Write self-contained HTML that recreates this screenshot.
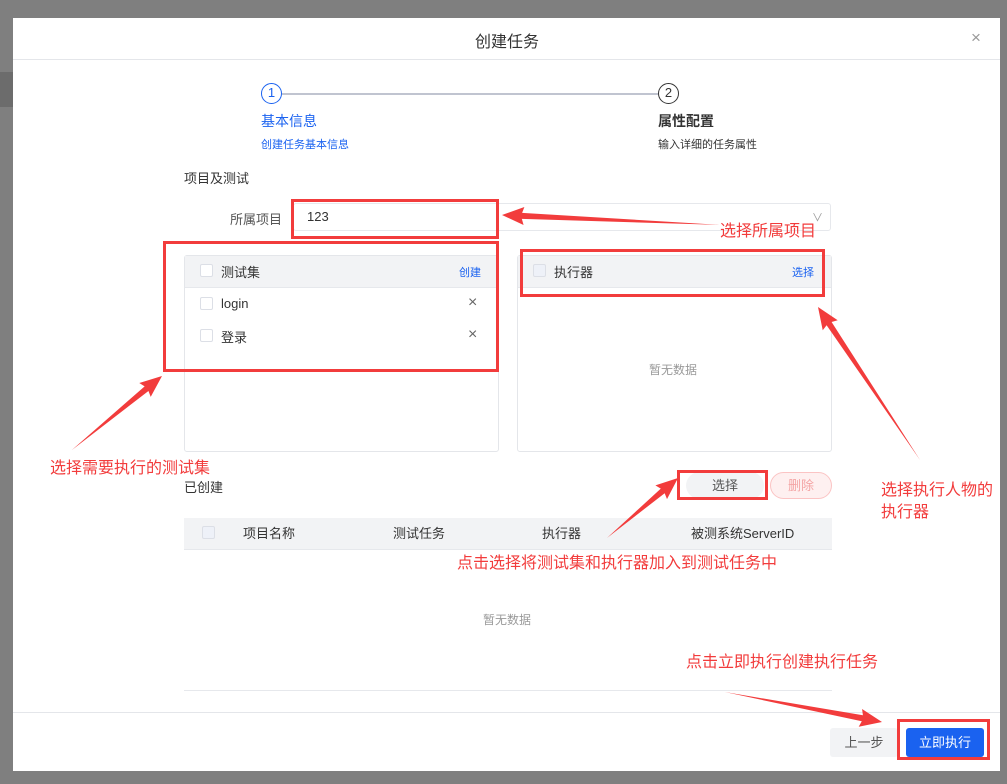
<!DOCTYPE html>
<html><head><meta charset="utf-8"><style>
*{box-sizing:border-box;margin:0;padding:0}
body{width:1007px;height:784px;background:#7f7f7f;position:relative;overflow:hidden;font-family:"Liberation Sans","Noto Sans CJK SC",sans-serif;font-size:13px;color:#333}
.a{position:absolute}
.dlg{left:13px;top:18px;width:987px;height:753px;background:#fff}
.red{position:absolute;border:3px solid #f23c3c}
.rt{position:absolute;color:#f23c3c;font-size:16px}
.cb{position:absolute;width:13px;height:13px;border:1px solid #dcdfe6;background:#fff;border-radius:2px}
.blue{color:#1a62f0}
</style></head><body>
<div class="a" style="left:0;top:72px;width:13px;height:35px;background:#6c6c6c"></div>
<div class="a dlg"></div>
<div class="a" style="left:13px;top:59px;width:987px;height:1px;background:#e4e6ea"></div>
<div class="a" style="left:475px;top:28px;font-size:16px;color:#333">创建任务</div>
<div class="a" style="left:971px;top:28px;font-size:17px;color:#999">×</div>
<!-- steps -->
<div class="a" style="left:261px;top:83px;width:21px;height:21px;border:1.5px solid #1a62f0;border-radius:50%;color:#1a62f0;text-align:center;line-height:18px;font-size:13px">1</div>
<div class="a" style="left:282px;top:93px;width:376px;height:2px;background:#c0c4d0"></div>
<div class="a" style="left:658px;top:83px;width:21px;height:21px;border:1.5px solid #333;border-radius:50%;text-align:center;line-height:18px;font-size:13px">2</div>
<div class="a blue" style="left:261px;top:111px;font-size:14px">基本信息</div>
<div class="a blue" style="left:261px;top:136px;font-size:11px">创建任务基本信息</div>
<div class="a" style="left:658px;top:111px;font-size:14px;font-weight:bold">属性配置</div>
<div class="a" style="left:658px;top:136px;font-size:11px">输入详细的任务属性</div>
<div class="a" style="left:184px;top:168px">项目及测试</div>
<div class="a" style="left:230px;top:209px;color:#555">所属项目</div>
<div class="a" style="left:293px;top:203px;width:538px;height:28px;border:1px solid #e6e8ec;border-radius:3px"></div>
<div class="a" style="left:307px;top:209px">123</div>
<div class="a" style="left:812px;top:209px;color:#999;font-size:11px">∨</div>
<!-- left panel -->
<div class="a" style="left:184px;top:255px;width:315px;height:197px;border:1px solid #e4e6ea;border-radius:3px"></div>
<div class="a" style="left:185px;top:256px;width:313px;height:32px;background:#f2f3f5;border-bottom:1px solid #e6e8ec"></div>
<div class="cb" style="left:200px;top:264px"></div>
<div class="a" style="left:221px;top:262px">测试集</div>
<div class="a blue" style="left:459px;top:264px;font-size:11px">创建</div>
<div class="cb" style="left:200px;top:297px"></div>
<div class="a" style="left:221px;top:296px">login</div>
<div class="a" style="left:468px;top:294px;color:#666;font-size:16px">×</div>
<div class="cb" style="left:200px;top:329px"></div>
<div class="a" style="left:221px;top:327px">登录</div>
<div class="a" style="left:468px;top:326px;color:#666;font-size:16px">×</div>
<!-- right panel -->
<div class="a" style="left:517px;top:255px;width:315px;height:197px;border:1px solid #e4e6ea;border-radius:3px"></div>
<div class="a" style="left:518px;top:256px;width:313px;height:32px;background:#f2f3f5;border-bottom:1px solid #e6e8ec"></div>
<div class="cb" style="left:533px;top:264px;background:#eef1f8"></div>
<div class="a" style="left:554px;top:262px">执行器</div>
<div class="a blue" style="left:792px;top:264px;font-size:11px">选择</div>
<div class="a" style="left:649px;top:361px;color:#999;font-size:12px">暂无数据</div>
<!-- created -->
<div class="a" style="left:184px;top:477px">已创建</div>
<div class="a" style="left:686px;top:472px;width:78px;height:27px;background:#f2f3f5;border-radius:14px;text-align:center;line-height:27px;color:#555">选择</div>
<div class="a" style="left:770px;top:472px;width:62px;height:27px;border:1px solid #fbc4c4;background:#fef0f0;border-radius:14px;text-align:center;line-height:25px;color:#f4a5a5">删除</div>
<div class="a" style="left:184px;top:518px;width:648px;height:32px;background:#f2f3f5;border-bottom:1px solid #e6e8ec"></div>
<div class="cb" style="left:202px;top:526px;background:#eef1f8"></div>
<div class="a" style="left:243px;top:523px">项目名称</div>
<div class="a" style="left:393px;top:523px">测试任务</div>
<div class="a" style="left:542px;top:523px">执行器</div>
<div class="a" style="left:691px;top:523px">被测系统ServerID</div>
<div class="a" style="left:483px;top:611px;color:#999;font-size:12px">暂无数据</div>
<div class="a" style="left:184px;top:690px;width:648px;height:1px;background:#e6e8ec"></div>
<div class="a" style="left:13px;top:712px;width:987px;height:1px;background:#e4e6ea"></div>
<div class="a" style="left:830px;top:728px;width:68px;height:29px;background:#f2f3f5;border-radius:3px;text-align:center;line-height:29px;color:#555">上一步</div>
<div class="a" style="left:906px;top:728px;width:78px;height:29px;background:#1a62f0;border-radius:3px;text-align:center;line-height:29px;color:#fff">立即执行</div>
<!-- red annotations -->
<div class="red" style="left:291px;top:199px;width:208px;height:40px"></div>
<div class="red" style="left:163px;top:241px;width:336px;height:131px"></div>
<div class="red" style="left:520px;top:249px;width:305px;height:48px"></div>
<div class="red" style="left:677px;top:470px;width:91px;height:30px"></div>
<div class="red" style="left:897px;top:719px;width:93px;height:41px"></div>
<div class="rt" style="left:720px;top:217px">选择所属项目</div>
<div class="rt" style="left:50px;top:454px">选择需要执行的测试集</div>
<div class="rt" style="left:881px;top:480px;line-height:22px">选择执行人物的<br>执行器</div>
<div class="rt" style="left:457px;top:549px">点击选择将测试集和执行器加入到测试任务中</div>
<div class="rt" style="left:686px;top:648px">点击立即执行创建执行任务</div>
<svg class="a" style="left:0;top:0" width="1007" height="784">
<g fill="#f23c3c">
<g transform="translate(502,215) rotate(182.6)"><polygon points="-218,0 -20,-3 -22,-9 0,0 -22,9 -20,3"/></g>
<g transform="translate(162,376) rotate(-39.4)"><polygon points="-117,0 -20,-3 -22,-9 0,0 -22,9 -20,3"/></g>
<g transform="translate(818,307) rotate(-123.7)"><polygon points="-184,0 -20,-3 -22,-9 0,0 -22,9 -20,3"/></g>
<g transform="translate(678,478) rotate(-40.2)"><polygon points="-93,0 -20,-3 -22,-9 0,0 -22,9 -20,3"/></g>
<g transform="translate(882,722) rotate(10.8)"><polygon points="-160,0 -20,-3 -22,-9 0,0 -22,9 -20,3"/></g>
</g></svg>
</body></html>
